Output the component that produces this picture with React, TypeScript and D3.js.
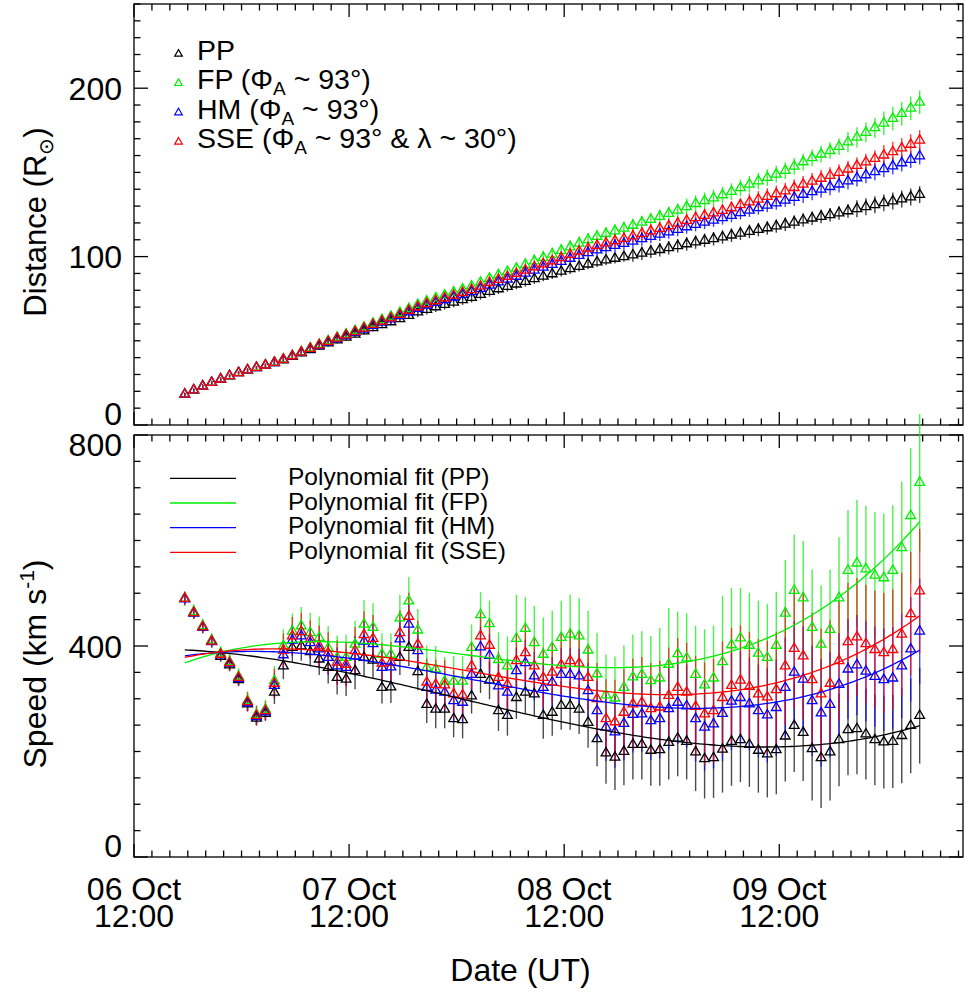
import React from 'react';
import * as d3 from 'd3';

// ---------------- data ----------------
const seriesNames = ['PP', 'FP', 'HM', 'SSE'];
const seriesColors = ['#000000', '#00ee00', '#0000ff', '#ff0000'];
const dayLabels = ['06 Oct', '07 Oct', '08 Oct', '09 Oct'];
const timeLabel = '12:00';
const distTicks = [0, 100, 200];
const speedTicks = [0, 400, 800];
const fitLabels = ['Polynomial fit (PP)', 'Polynomial fit (FP)', 'Polynomial fit (HM)', 'Polynomial fit (SSE)'];

const axisStart = Date.UTC(2012, 9, 6, 12, 0);
const axisEnd = Date.UTC(2012, 9, 10, 8, 30);
const firstObs = Date.UTC(2012, 9, 6, 17, 40);

const distPP = [18.2,20.7,23.0,25.2,27.2,29.1,31.0,32.6,34.0,35.4,
36.9,38.6,40.6,42.7,44.7,46.7,48.6,50.4,52.1,53.9,
55.8,57.7,59.5,61.2,63.0,65.0,67.0,68.6,70.1,71.5,
72.9,74.3,75.7,77.4,79.2,80.8,82.2,83.6,85.2,86.8,
88.3,89.7,91.2,92.7,94.1,95.5,96.8,97.9,98.9,99.9,
100.9,102.0,103.1,104.1,105.2,106.4,107.5,108.6,109.6,110.6,
111.6,112.7,113.8,114.9,116.0,117.0,118.1,119.2,120.4,121.7,
122.8,123.8,124.8,125.9,127.1,128.4,129.6,130.8,131.9,133.0,134.2,135.4,136.8];
const distFP = [18.2,20.7,23.0,25.2,27.3,29.2,31.1,32.7,34.2,35.6,
37.2,39.1,41.2,43.5,45.7,47.9,50.0,52.0,53.9,56.0,
58.1,60.4,62.5,64.5,66.7,69.1,71.5,73.5,75.4,77.1,
78.9,80.6,82.5,84.7,87.0,89.1,91.0,93.0,95.2,97.4,
99.4,101.4,103.6,105.7,107.9,110.0,111.9,113.6,115.2,116.8,
118.5,120.3,122.0,123.8,125.6,127.5,129.5,131.4,133.1,134.8,
136.6,138.6,140.8,142.9,144.9,146.9,148.9,151.1,153.6,156.2,
158.6,160.8,162.9,165.3,168.0,170.8,173.7,176.5,179.2,182.0,184.9,188.1,191.6];
const distHM = [18.2,20.7,23.0,25.2,27.2,29.2,31.0,32.6,34.0,35.4,
37.0,38.8,40.9,43.0,45.2,47.2,49.2,51.1,53.0,54.9,
56.9,59.0,61.0,62.9,64.9,67.1,69.2,71.1,72.7,74.3,
75.9,77.4,79.1,81.0,83.0,84.9,86.5,88.2,90.1,91.9,
93.6,95.3,97.1,98.9,100.6,102.3,103.9,105.2,106.5,107.7,
109.1,110.5,111.9,113.2,114.6,116.1,117.6,119.0,120.3,121.6,
123.0,124.4,126.0,127.5,129.0,130.4,131.8,133.4,135.1,136.9,
138.5,140.0,141.5,143.0,144.8,146.7,148.5,150.3,152.1,153.8,155.6,157.6,159.7];
const distSSE = [18.2,20.7,23.0,25.2,27.2,29.2,31.0,32.6,34.1,35.5,
37.1,38.9,41.0,43.2,45.4,47.5,49.5,51.5,53.4,55.3,
57.4,59.6,61.6,63.5,65.6,67.9,70.1,72.0,73.7,75.4,
77.0,78.6,80.3,82.3,84.5,86.4,88.1,89.9,91.9,93.8,
95.6,97.4,99.3,101.2,103.1,104.9,106.6,108.0,109.4,110.7,
112.2,113.7,115.2,116.6,118.2,119.8,121.4,123.0,124.4,125.8,
127.3,128.9,130.7,132.4,134.0,135.6,137.2,138.9,140.9,142.9,
144.7,146.4,148.1,149.9,151.9,154.0,156.1,158.2,160.2,162.2,164.4,166.6,169.1];

const distErrPP = [1,1,1,1,1,1,1,1,1,1, 2,2,2,2,2,2,2,2,2,2, 2,2,2,2,2,2,3,3,3,3,
3,3,3,3,3,3,3,3,3,3, 3,3,3,3,3,3,3,3,3,3, 4,4,4,4,4,4,4,4,4,4, 4,4,4,4,4,4,4,4,4,4,
4,4,4,4,4,5,5,5,5,5,5,5,5];
const distErrFP = [1,1,1,1,1,1,1,1,1,1, 2,2,2,2,2,2,2,2,2,2, 3,3,3,3,3,3,3,3,3,3,
3,3,3,3,3,3,3,3,4,4, 4,4,4,4,4,4,4,4,4,4, 4,4,4,4,4,4,5,5,5,5, 5,5,5,5,5,5,5,5,5,5,
5,5,5,5,6,6,6,6,7,7,7,7,7];
const distErrHM = [1,1,1,1,1,1,1,1,1,1, 2,2,2,2,2,2,2,2,2,2, 2,2,2,3,3,3,3,3,3,3,
3,3,3,3,3,3,3,3,3,3, 3,3,3,3,3,4,4,4,4,4, 4,4,4,4,4,4,4,4,4,4, 4,4,4,4,4,4,4,4,5,5,
5,5,5,5,5,5,5,5,5,5,5,5,5];
const distErrSSE = [1,1,1,1,1,1,1,1,1,1, 2,2,2,2,2,2,2,2,2,2, 2,3,3,3,3,3,3,3,3,3,
3,3,3,3,3,3,3,3,3,3, 3,3,4,4,4,4,4,4,4,4, 4,4,4,4,4,4,4,4,4,4, 4,4,4,5,5,5,5,5,5,5,
5,5,5,5,5,5,5,5,6,6,6,6,6];

const speedPP = [490,463,436,409,380,364,336,290,263,272,
312,362,397,400,389,375,359,340,337,353,
378,373,321,322,378,397,351,289,280,280,
262,260,305,346,335,277,268,302,312,309,
268,274,287,287,280,255,224,197,189,200,
213,213,202,203,217,225,219,199,186,188,
204,219,222,213,202,195,203,229,249,236,
205,188,199,222,241,243,233,222,218,219,230,249,268];
const speedFP = [490,465,438,411,386,370,342,296,270,280,
334,400,428,438,425,416,396,378,378,403,
441,435,384,384,453,485,430,359,356,333,
333,333,397,459,442,374,362,414,433,406,
384,397,416,422,419,392,347,307,301,321,
341,346,334,339,365,385,377,346,326,339,
370,402,415,401,386,378,401,462,505,491,
435,403,431,491,543,557,546,534,529,543,586,647,710];
const speedHM = [489,462,435,408,383,367,338,292,266,275,
325,383,411,419,406,394,378,362,359,381,
409,404,359,360,413,441,391,321,316,312,
296,293,346,398,382,324,312,353,368,343,
321,331,346,346,343,315,277,246,237,253,
270,271,258,262,281,293,286,262,246,252,
272,295,302,290,277,269,283,321,350,337,
296,273,289,327,356,364,352,342,336,339,362,394,428];
const speedSSE = [490,463,436,409,384,368,340,294,268,277,
329,392,419,427,413,400,387,369,365,391,
421,414,367,369,425,456,403,331,327,326,
309,307,362,419,401,340,327,372,387,362,
340,350,364,372,367,340,300,262,256,274,
290,293,281,284,306,321,312,285,271,277,
302,325,335,323,309,303,317,362,395,381,
336,309,329,372,408,417,404,393,387,393,422,461,504];

const speedErrPP = [10,10,10,10,10,12,12,14,14,14,
22,25,28,28,28,30,30,32,32,35,
35,35,30,30,33,35,35,35,36,36,
35,35,33,35,36,38,38,40,40,42,
44,44,46,46,47,48,52,58,62,64,
66,66,67,68,70,72,72,74,75,76,
82,84,80,80,80,82,84,86,88,92,
98,95,92,88,86,86,86,86,88,88,90,90,91];
const speedErrFP = [14,14,14,14,14,16,16,18,18,18,
28,32,34,36,38,40,42,42,44,45,
46,46,40,40,44,46,40,42,44,46,
48,48,44,43,44,52,56,83,60,70,
70,70,70,75,72,75,78,77,79,80,
81,82,85,95,107,80,85,92,106,100,
125,108,95,100,100,102,102,101,106,108,
110,112,114,115,115,120,120,120,122,124,126,128,130];
const speedErrHM = [11,11,11,11,11,13,13,15,15,15,
24,27,30,30,30,33,33,35,35,38,
38,38,33,33,36,38,38,38,40,40,
38,38,36,38,40,42,42,44,44,46,
48,48,50,50,52,53,57,64,68,70,
72,72,74,75,77,79,79,81,82,84,
90,92,88,88,88,90,92,95,97,100,
105,102,100,97,95,95,95,95,97,97,99,99,100];
const speedErrSSE = [12,12,12,12,12,15,15,18,18,18,
28,32,36,36,36,39,39,42,42,45,
45,45,39,39,43,45,45,45,47,47,
45,45,43,45,47,49,49,52,52,55,
57,57,60,60,61,62,68,75,80,83,
86,86,87,88,91,94,94,96,98,99,
107,109,104,104,104,107,109,112,114,120,
127,124,120,114,112,112,112,112,114,114,117,117,118];

const distSeries = [distPP, distFP, distHM, distSSE];
const distErrs = [distErrPP, distErrFP, distErrHM, distErrSSE];
const speedSeries = [speedPP, speedFP, speedHM, speedSSE];
const speedErrs = [speedErrPP, speedErrFP, speedErrHM, speedErrSSE];

// ---------------- helpers ----------------
const FONT = '"Liberation Sans", Arial, Helvetica, sans-serif';
const X0 = 134, X1 = 963;
const TOP = { y0: 4, y1: 425 };
const BOT = { y0: 435, y1: 857 };

const times = speedPP.map((_, i) => new Date(firstObs + i * 3600e3));

function polyfit(xs: number[], ys: number[], deg: number): number[] {
  const n = deg + 1;
  const A: number[][] = Array.from({ length: n }, () => new Array(n + 1).fill(0));
  for (let k = 0; k < xs.length; k++) {
    for (let r = 0; r < n; r++) {
      for (let c = 0; c < n; c++) A[r][c] += Math.pow(xs[k], r + c);
      A[r][n] += ys[k] * Math.pow(xs[k], r);
    }
  }
  for (let i = 0; i < n; i++) {
    let p = i;
    for (let r = i + 1; r < n; r++) if (Math.abs(A[r][i]) > Math.abs(A[p][i])) p = r;
    const tmp = A[i]; A[i] = A[p]; A[p] = tmp;
    for (let r = 0; r < n; r++) {
      if (r === i) continue;
      const f = A[r][i] / A[i][i];
      for (let c = i; c <= n; c++) A[r][c] -= f * A[i][c];
    }
  }
  return A.map((row, i) => row[n] / row[i]);
}

function tri(cx: number, cy: number, r: number) {
  const h = r * 0.866;
  return `M${cx},${cy - r}L${cx + h},${cy + r / 2}L${cx - h},${cy + r / 2}Z`;
}

export default function App() {
  const x = d3.scaleUtc().domain([new Date(axisStart), new Date(axisEnd)]).range([X0, X1]);
  const yD = d3.scaleLinear().domain([0, 250]).range([TOP.y1, TOP.y0]);
  const yS = d3.scaleLinear().domain([0, 800]).range([BOT.y1, BOT.y0]);

  const hourTicks = d3.utcHour.every(2)!.range(new Date(axisStart), new Date(axisEnd + 1));
  const majors = hourTicks.filter((t) => t.getUTCHours() === 12);

  const tNorm = times.map((_, i) => i / (times.length - 1));
  const fits = speedSeries.map((s) => polyfit(tNorm, s, 3));
  const fitSamples = d3.range(0, 1.0001, 0.005);
  const fitLine = d3.line<[number, number]>().x((d) => d[0]).y((d) => d[1]);
  const t0 = times[0].getTime(), tN = times[times.length - 1].getTime();

  const frame = (p: { y0: number; y1: number }, y: d3.ScaleLinear<number, number>, minorStep: number, majorStep: number, max: number, key: string) => {
    const yMinor = d3.range(0, max + 0.001, minorStep);
    return (
      <g key={key} stroke="#000" strokeWidth={1.3} fill="none">
        <rect x={X0} y={p.y0} width={X1 - X0} height={p.y1 - p.y0} />
        {hourTicks.map((t, i) => {
          const big = t.getUTCHours() === 12;
          const len = big ? 13 : 6.5;
          const xx = x(t);
          return (
            <g key={i}>
              <line x1={xx} x2={xx} y1={p.y1} y2={p.y1 - len} />
              <line x1={xx} x2={xx} y1={p.y0} y2={p.y0 + len} />
            </g>
          );
        })}
        {yMinor.map((v, i) => {
          const big = Math.abs(v % majorStep) < 1e-6;
          const len = big ? 14 : 6.5;
          const yy = y(v);
          return (
            <g key={i}>
              <line x1={X0} x2={X0 + len} y1={yy} y2={yy} />
              <line x1={X1} x2={X1 - len} y1={yy} y2={yy} />
            </g>
          );
        })}
      </g>
    );
  };

  const fs = 32;

  return (
    <svg width={965} height={996} style={{ position: 'absolute', left: 0, top: 0, background: '#fff' }} fontFamily={FONT}>
      <rect x={0} y={0} width={965} height={996} fill="#fff" />
      {frame(TOP, yD, 10, 100, 250, 'top')}
      {frame(BOT, yS, 50, 400, 800, 'bot')}

      {/* y tick labels */}
      {distTicks.map((v, i) => (
        <text key={'dt' + i} x={122} y={yD(v) + (v === 0 ? -12 : 0)} dy="0.36em" textAnchor="end" fontSize={fs}>{v}</text>
      ))}
      {speedTicks.map((v, i) => (
        <text key={'st' + i} x={122} y={yS(v) + (v === 0 ? -12 : v === 800 ? 9 : 0)} dy="0.36em" textAnchor="end" fontSize={fs}>{v}</text>
      ))}

      {/* x tick labels */}
      {majors.map((t, i) => (
        <text key={'xl' + i} textAnchor="middle" fontSize={fs}>
          <tspan x={x(t)} y={900}>{dayLabels[i]}</tspan>
          <tspan x={x(t)} y={927}>{timeLabel}</tspan>
        </text>
      ))}
      <text x={(X0 + X1) / 2 - 28} y={981} textAnchor="middle" fontSize={fs}>Date (UT)</text>

      {/* y titles */}
      <text transform="translate(46,222) rotate(-90)" textAnchor="middle" fontSize={31}>
        Distance (R<tspan dy={7} fontSize={20}>⊙</tspan><tspan dy={-7}>)</tspan>
      </text>
      <text transform="translate(46,664) rotate(-90)" textAnchor="middle" fontSize={32}>
        Speed (km s<tspan dy={-12} fontSize={21}>-1</tspan><tspan dy={12}>)</tspan>
      </text>

      {/* distance error bars */}
      {distSeries.map((s, k) => (
        <g key={'de' + k} stroke={seriesColors[k]} strokeWidth={1.4} opacity={0.75}>
          {s.map((v, i) => (
            <line key={i} x1={x(times[i])} x2={x(times[i])} y1={yD(v - distErrs[k][i])} y2={yD(v + distErrs[k][i])} />
          ))}
        </g>
      ))}
      {/* distance triangles */}
      {distSeries.map((s, k) => (
        <g key={'dp' + k} stroke={seriesColors[k]} strokeWidth={1.3} fill="none">
          {s.map((v, i) => (
            <path key={i} d={tri(x(times[i]), yD(v), 5.6)} />
          ))}
        </g>
      ))}

      {/* speed error bars */}
      {speedSeries.map((s, k) => (
        <g key={'se' + k} stroke={seriesColors[k]} strokeWidth={1.4} opacity={0.7}>
          {s.map((v, i) => (
            <line key={i} x1={x(times[i])} x2={x(times[i])} y1={yS(v - speedErrs[k][i])} y2={yS(v + speedErrs[k][i])} />
          ))}
        </g>
      ))}
      {/* speed triangles */}
      {speedSeries.map((s, k) => (
        <g key={'sp' + k} stroke={seriesColors[k]} strokeWidth={1.3} fill="none">
          {s.map((v, i) => (
            <path key={i} d={tri(x(times[i]), yS(v), 5.6)} />
          ))}
        </g>
      ))}
      {/* polynomial fits */}
      {fits.map((c, k) => {
        const pts: [number, number][] = fitSamples.map((u) => {
          const val = c[0] + c[1] * u + c[2] * u * u + c[3] * u * u * u;
          return [x(new Date(t0 + u * (tN - t0))), yS(val)];
        });
        return <path key={'fit' + k} d={fitLine(pts) || ''} stroke={seriesColors[k]} strokeWidth={1.3} fill="none" />;
      })}

      {/* top legend */}
      {seriesNames.map((n, k) => {
        const base = 60 + k * 29.3;
        return (
          <g key={'lg' + k}>
            <path d={tri(178.5, base - 6, 4.4)} stroke={seriesColors[k]} strokeWidth={1.2} fill="none" />
            <text x={197} y={base} fontSize={28.5}>
              {n}
              {k > 0 && (
                <>
                  {' (Φ'}<tspan dy={6} fontSize={19}>A</tspan>
                  <tspan dy={-6}>{k === 3 ? ' ~ 93° & λ ~ 30°)' : ' ~ 93°)'}</tspan>
                </>
              )}
            </text>
          </g>
        );
      })}

      {/* bottom legend */}
      {fitLabels.map((n, k) => {
        const ly = 478.3 + k * 24.7;
        return (
          <g key={'fl' + k}>
            <line x1={170} x2={236} y1={ly} y2={ly} stroke={seriesColors[k]} strokeWidth={1.3} />
            <text x={288} y={485 + k * 24.7} fontSize={24.5}>{n}</text>
          </g>
        );
      })}
    </svg>
  );
}
